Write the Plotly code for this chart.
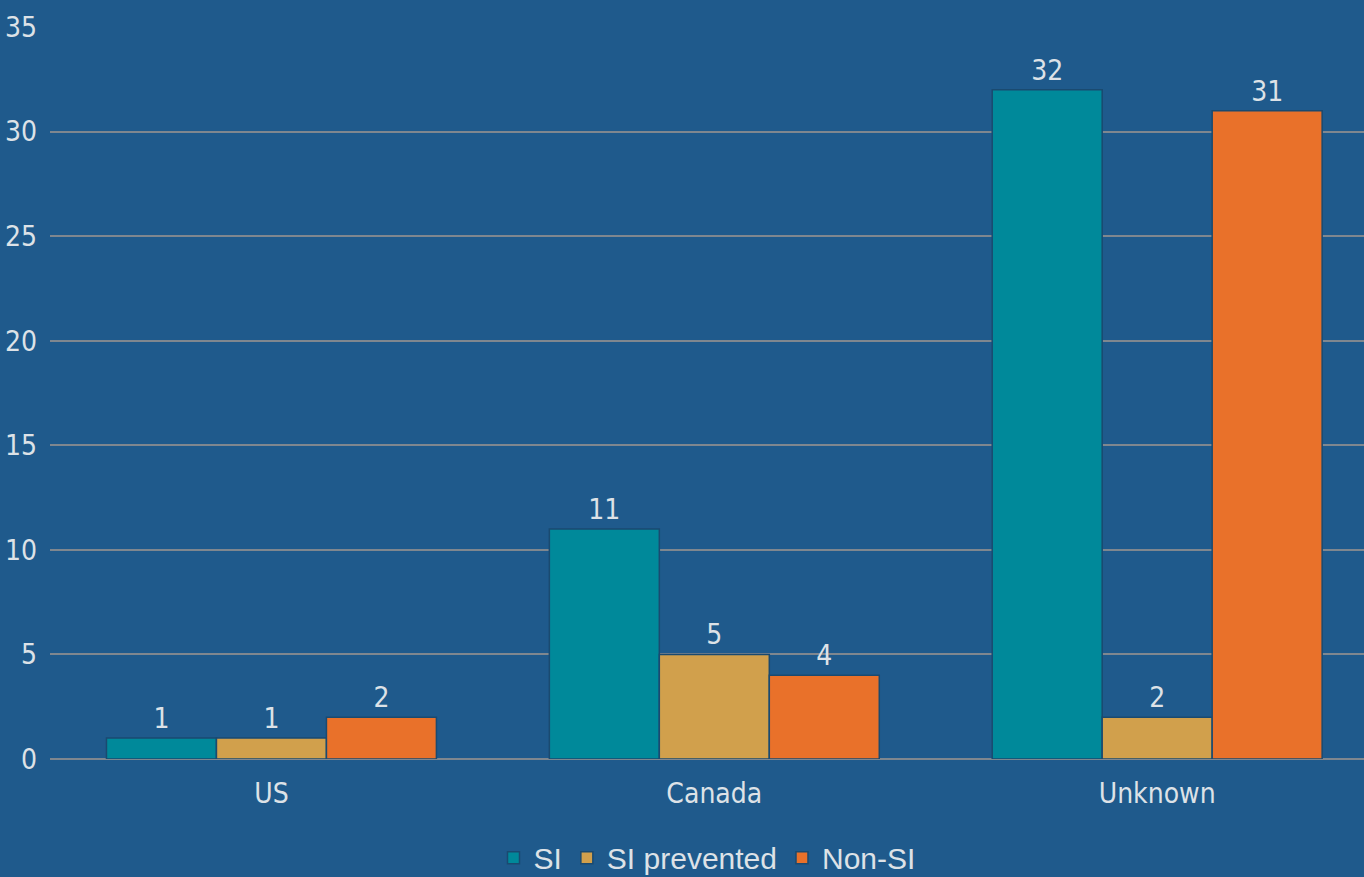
import plotly.graph_objects as go

# --- data ---
categorias = ["US", "Canada", "Unknown"]
serie_si = [1, 11, 32]
serie_si_prev = [1, 5, 2]
serie_non_si = [2, 4, 31]
nombres = ["SI", "SI prevented", "Non-SI"]

# --- palette ---
FONDO = "#1F5A8C"
REJILLA = "#7F878F"
TEXTO = "#DDE2E7"
COLORES = ["#00899A", "#D1A04C", "#E9712A"]
BORDE = "#1A4A70"
FUENTE = "Liberation Sans Narrow, Arial Narrow, DejaVu Sans Condensed, sans-serif"

fig = go.Figure()
for nombre, valores, color in zip(nombres, [serie_si, serie_si_prev, serie_non_si], COLORES):
    fig.add_trace(go.Bar(
        x=categorias, y=valores, name=nombre,
        marker=dict(color=color, line=dict(color=BORDE, width=1.5)),
        text=valores, textposition="outside", cliponaxis=False,
        textfont=dict(family=FUENTE, size=28, color=TEXTO)))

fig.update_layout(
    width=1364, height=877,
    margin=dict(l=50, r=0, t=27, b=118, autoexpand=False),
    paper_bgcolor=FONDO, plot_bgcolor=FONDO,
    font=dict(family=FUENTE, color=TEXTO, size=28),
    barmode="group", bargap=0.255, bargroupgap=0,
    showlegend=True,
    legend=dict(orientation="h", x=0.5, xanchor="center",
                yref="container", y=0.022, yanchor="middle",
                font=dict(family="Liberation Sans, Arial, sans-serif", size=30, color=TEXTO),
                itemwidth=30, bgcolor="rgba(0,0,0,0)"),
    xaxis=dict(range=[-0.5, 2.467], showgrid=False, ticks="", showline=False,
               zeroline=False, tickfont=dict(size=28), ticklabelstandoff=15),
    yaxis=dict(range=[0, 35], dtick=5, showgrid=True, gridcolor=REJILLA, gridwidth=1.5,
               zeroline=True, zerolinecolor=REJILLA, zerolinewidth=1.5,
               ticks="", tickfont=dict(size=28), ticklabelstandoff=12),
)

# sin margen blanco alrededor de la figura, sin barra de herramientas
fig.write_html("out.html", config={"displayModeBar": False},
               post_script="document.body.style.margin='0';")
